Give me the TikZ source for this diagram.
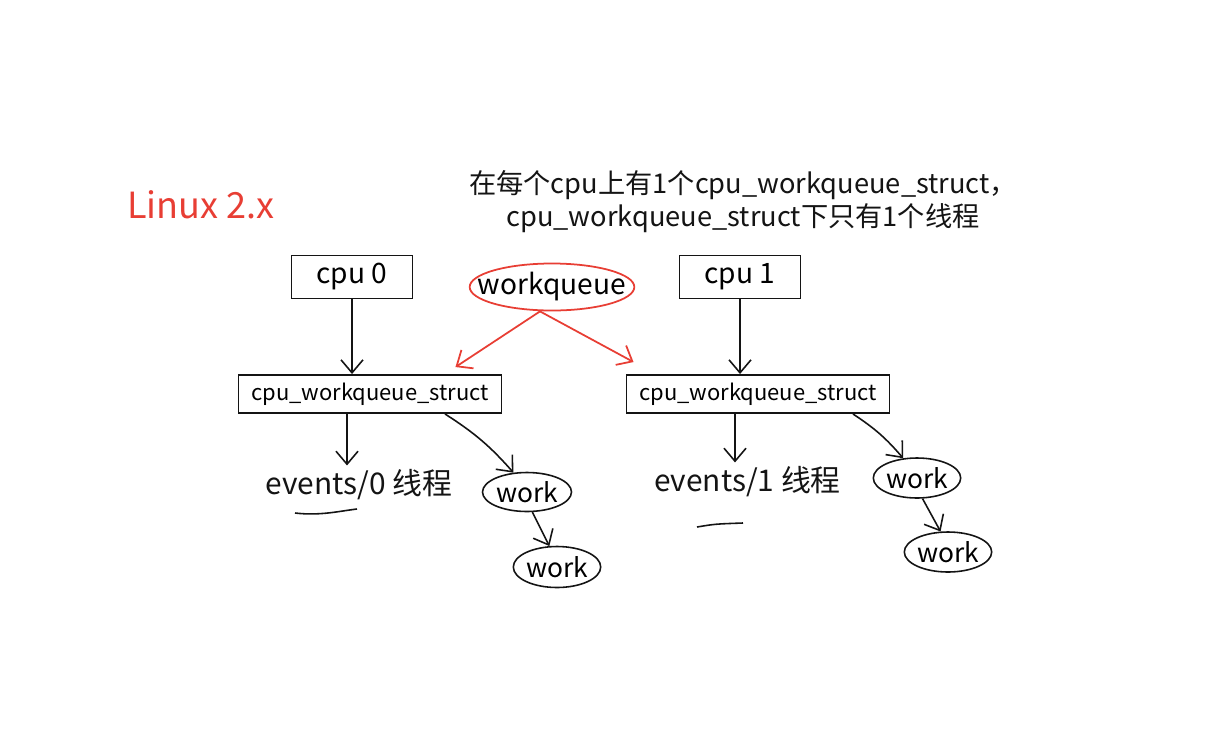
\documentclass[tikz,border=0pt]{standalone}
\usepackage{fontspec}
\setmainfont{Noto Sans CJK SC}
\usepackage{xcolor}
\usepackage{tikz}
\usetikzlibrary{arrows.meta,shapes.geometric}

\definecolor{penred}{RGB}{232,62,52}
\definecolor{ink}{RGB}{20,20,20}

\begin{document}
\begin{tikzpicture}[>={Straight Barb[length=2.6mm,width=4.4mm]}, line width=0.9pt, draw=ink]
  \useasboundingbox[fill=white] (0,0) rectangle (24.36,-15.06);
  % Styles
  \tikzstyle{cpubox}=[draw=ink, line width=1.1pt, minimum width=2.42cm, minimum height=0.86cm, inner sep=0pt, font=\fontsize{16}{18}\selectfont]
  \tikzstyle{cwq}=[draw=ink, line width=1.1pt, minimum width=5.26cm, minimum height=0.76cm, inner sep=0pt, font=\fontsize{12.5}{14}\selectfont]
  \tikzstyle{wk}=[draw=ink, ellipse, minimum width=1.78cm, minimum height=0.78cm, inner sep=0pt, font=\fontsize{15}{17}\selectfont]
  \tikzstyle{lab}=[text=ink, inner sep=2pt, font=\fontsize{17}{19}\selectfont]
  \tikzstyle{redarr}=[->, draw=penred, line width=1pt]

  % Title and note
  \node[text=penred, font=\fontsize{20.5}{22}\selectfont] (title) at (4.02,-4.1) {Linux 2.x};
  \node[lab, align=center, font=\fontsize{15.5}{19}\selectfont] (note) at (14.86,-4.03)
    {在每个cpu上有1个cpu\_workqueue\_struct，\\cpu\_workqueue\_struct下只有1个线程};

  % Top row
  \node[cpubox] (cpu0) at (7.04,-5.54) {cpu 0};
  \node[cpubox] (cpu1) at (14.8,-5.54) {cpu 1};
  \node[draw=penred, ellipse, line width=1pt, minimum width=3.22cm, minimum height=0.94cm, inner ysep=0pt, inner xsep=-9pt, font=\fontsize{16}{18}\selectfont] (wq) at (11.04,-5.74) {workqueue};

  % Per-cpu structs
  \node[cwq] (cwq0) at (7.4,-7.88) {cpu\_workqueue\_struct};
  \node[cwq] (cwq1) at (15.16,-7.88) {cpu\_workqueue\_struct};

  \draw[->] (cpu0.south) -- (cpu0.south |- cwq0.north);
  \draw[->] (cpu1.south) -- (cpu1.south |- cwq1.north);
  \draw[redarr] ([xshift=-0.24cm]wq.south) -- ([shift={(-0.94,0.14)}]cwq0.north east);
  \draw[redarr] ([xshift=-0.24cm]wq.south) -- ([shift={(0.16,0.24)}]cwq1.north west);

  % Left: thread and works
  \node[lab] (ev0) at (7.18,-9.7) {events/0 线程};
  \node[wk] (w0a) at (10.54,-9.84) {work};
  \node[wk, minimum width=1.6cm, minimum height=0.82cm] (w0b) at (11.14,-11.34) {work};

  \draw[->] ([xshift=-0.46cm]cwq0.south) -- ([xshift=-0.46cm]cwq0.south |- ev0.north);
  \draw[->] ([xshift=1.5cm]cwq0.south) to[bend left=8] (w0a.125);
  \draw[->] (w0a.-75) -- (w0b.110);
  \draw (5.9,-10.26) .. controls (6.4,-10.32) and (6.8,-10.22) .. (7.14,-10.18);

  % Right: thread and works
  \node[lab] (ev1) at (14.95,-9.64) {events/1 线程};
  \node[wk, minimum width=1.74cm, minimum height=0.8cm] (w1a) at (18.34,-9.56) {work};
  \node[wk, minimum width=1.6cm, minimum height=0.8cm] (w1b) at (18.96,-11.04) {work};

  \draw[->] ([xshift=-0.46cm]cwq1.south) -- ([xshift=-0.46cm]cwq1.south |- ev1.north);
  \draw[->] ([xshift=1.9cm]cwq1.south) to[bend left=8] (w1a.125);
  \draw[->] (w1a.-75) -- (w1b.110);
  \draw (13.94,-10.54) .. controls (14.3,-10.48) .. (14.86,-10.46);
\end{tikzpicture}
\end{document}
